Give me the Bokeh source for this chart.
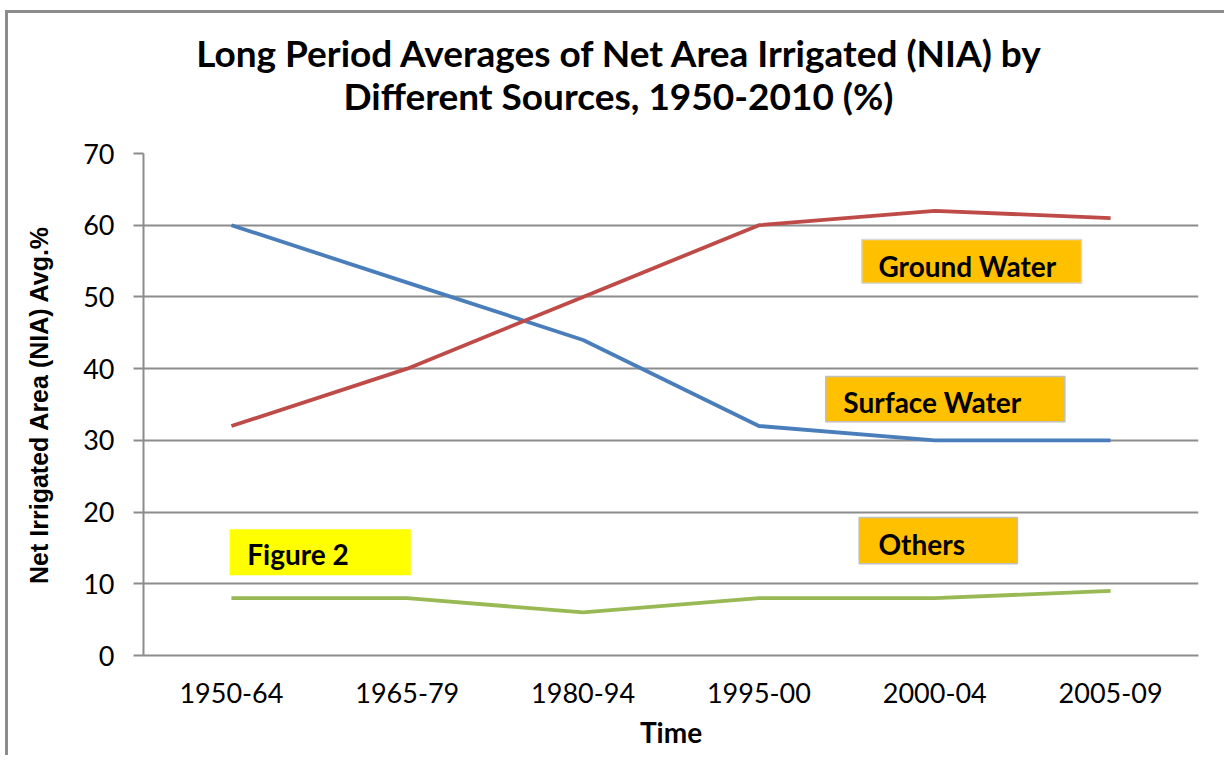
from bokeh.plotting import figure
from bokeh.models import Range1d, FixedTicker, BoxAnnotation, Label, Div
from bokeh.layouts import column
from bokeh.embed import file_html
from bokeh.resources import INLINE

categories = ["1950-64", "1965-79", "1980-94", "1995-00", "2000-04", "2005-09"]
surface_water = [60, 52, 44, 32, 30, 30]
ground_water = [32, 40, 50, 60, 62, 61]
others = [8, 8, 6, 8, 8, 9]
y_ticks = [0, 10, 20, 30, 40, 50, 60, 70]
title_lines = ["Long Period Averages of Net Area Irrigated (NIA) by",
               "Different Sources, 1950-2010 (%)"]

xs = list(range(len(categories)))

FW = 135 + 1055 + 21

title_div = Div(text="<br>".join(title_lines), width=FW, height=110,
                styles={"font-family": "Lato", "font-size": "37px", "font-weight": "bold",
                        "line-height": "43px", "text-align": "center", "color": "black",
                        "padding-top": "13px", "background-color": "white"})

p = figure(output_backend="svg", toolbar_location=None,
           frame_width=1055, frame_height=502,
           min_border_left=135, min_border_right=21,
           min_border_top=20, min_border_bottom=100,
           x_range=Range1d(-0.5, len(categories) - 0.5),
           y_range=Range1d(0, 70))
p.title = None

p.outline_line_color = None
p.background_fill_color = "white"
p.border_fill_color = "white"

# axes
p.xaxis.ticker = FixedTicker(ticks=xs)
p.xaxis.major_label_overrides = {i: c for i, c in enumerate(categories)}
p.xaxis.major_tick_line_color = None
p.xaxis.minor_tick_line_color = None
p.xaxis.axis_line_color = "#8c8c8c"
p.xaxis.axis_line_width = 2
p.xaxis.major_label_text_font = "Lato"
p.xaxis.major_label_text_font_size = "27px"
p.xaxis.major_label_text_color = "black"
p.xaxis.major_label_standoff = 21
p.xaxis.axis_label = "Time"
p.xaxis.axis_label_text_font = "Lato"
p.xaxis.axis_label_text_font_size = "28px"
p.xaxis.axis_label_text_font_style = "bold"
p.xaxis.axis_label_text_color = "black"
p.xaxis.axis_label_standoff = 9

p.yaxis.ticker = FixedTicker(ticks=y_ticks)
p.yaxis.major_tick_out = 10
p.yaxis.major_tick_in = 0
p.yaxis.major_tick_line_color = "#8c8c8c"
p.yaxis.major_tick_line_width = 2
p.yaxis.minor_tick_line_color = None
p.yaxis.axis_line_color = "#8c8c8c"
p.yaxis.axis_line_width = 2
p.yaxis.major_label_text_font = "Lato"
p.yaxis.major_label_text_font_size = "27px"
p.yaxis.major_label_text_color = "black"
p.yaxis.major_label_standoff = 19
p.yaxis.axis_label = "Net Irrigated Area (NIA) Avg.%"
p.yaxis.axis_label_text_font = "Liberation Sans"
p.yaxis.axis_label_text_font_size = "25px"
p.yaxis.axis_label_text_font_style = "bold"
p.yaxis.axis_label_text_color = "black"
p.yaxis.axis_label_standoff = 27

p.xgrid.grid_line_color = None
p.ygrid.grid_line_color = "#8c8c8c"
p.ygrid.grid_line_width = 2

# lines
p.line(xs, surface_water, line_color="#4A7EBB", line_width=3.8)
p.line(xs, ground_water, line_color="#BE4B48", line_width=3.8)
p.line(xs, others, line_color="#98B954", line_width=3.8)

# annotation boxes
boxes = [
    # text, box (left, right, bottom, top), text anchor (x, y), fill, border
    ("Ground Water", (3.585, 4.835, 51.9, 58.0), (3.68, 54.3), "#FFC000", "#D9D9D9"),
    ("Surface Water", (3.38, 4.74, 32.6, 38.9), (3.48, 35.4), "#FFC000", "#BFBFBF"),
    ("Others", (3.57, 4.47, 12.8, 19.25), (3.68, 15.6), "#FFC000", "#BFBFBF"),
    ("Figure 2", (-0.01, 1.02, 11.2, 17.6), (0.09, 14.2), "#FFFF00", None),
]
for txt, (l, r, b, t), (tx, ty), fill, border in boxes:
    p.add_layout(BoxAnnotation(left=l, right=r, bottom=b, top=t,
                               fill_color=fill, fill_alpha=1.0,
                               line_color=border, line_width=1.5 if border else 0,
                               line_alpha=1.0 if border else 0.0,
                               level="overlay"))
    p.add_layout(Label(x=tx, y=ty, text=txt, text_font="Lato", text_font_size="28px",
                       text_font_style="bold", text_color="black",
                       text_baseline="middle", text_align="left", level="overlay"))

layout = column(title_div, p, spacing=0)
layout.styles = {"border-top": "3px solid #8c8c8c", "border-left": "3px solid #8c8c8c",
                 "border-right": "3px solid #8c8c8c", "background-color": "white",
                 "margin-left": "5px", "margin-top": "10px"}

open("out.html", "w").write(file_html(layout, INLINE))
